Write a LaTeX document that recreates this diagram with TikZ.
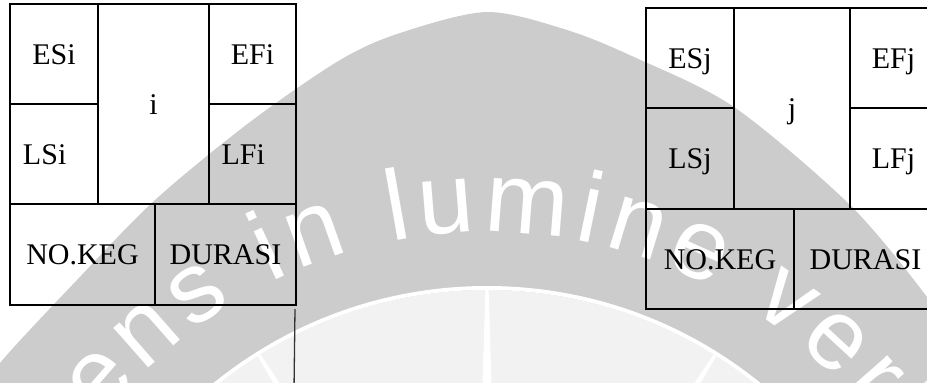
\documentclass[tikz,border=0pt]{standalone}
\usepackage{fontspec}
\setmainfont{Liberation Serif}
\newfontfamily\mottofont{Liberation Sans}
\newcommand\mottostyle{\mottofont\fontsize{100pt}{100pt}\selectfont\color{white}}
\usetikzlibrary{calc,decorations.text}
\definecolor{bandgray}{HTML}{CCCCCC}
\definecolor{discgray}{HTML}{F2F2F2}

\begin{document}
\begin{tikzpicture}[x=1pt, y=-1pt,
        cell/.style={draw, line width=2pt, inner sep=0pt,
                     minimum width=88pt, minimum height=100pt,
                     font=\fontsize{30pt}{36pt}\selectfont,
                     text height=20pt, text depth=0pt},
        lcell/.style={cell, text width=62pt, align=left},
        link/.style={draw=black!80, line width=1.3pt}
    ]
    \useasboundingbox (0,0) rectangle (927,383);
    \clip (0,0) rectangle (927,383);
    \coordinate (C) at (487,720);

    % watermark
    \fill[bandgray] plot[smooth] coordinates {(-40,420) (0,363) (77,280) (155,200)
        (250,122) (340,60) (400,33) (487,12) (567,30) (634,57) (734,107)
        (850,205) (927,297) (960,350)} -- (960,420) -- cycle;
    \fill[discgray] (C) circle[radius=430];
    \draw[white, line width=4pt] (C) circle[radius=432];
    \begin{scope}
        \clip (C) circle[radius=430];
        \foreach \a in {-122,-90,-58}
            \fill[white] ($(C)+(\a:481)$) -- ($(C)+(\a+90:15)$) -- ($(C)+(\a-90:15)$) -- cycle;
    \end{scope}
    \path[decorate, decoration={text along path, text align=fit to path,
            text={|\mottostyle|Sciens in lumine veritas}}]
        ($(C)+(-161:488)$) arc[start angle=161, end angle=17.5, radius=488pt];

    % kegiatan i
    \node[cell] (ESi) at (54,54) {ESi};
    \node[lcell] (LSi) at (54,154) {LSi};
    \node[cell, minimum width=111pt, minimum height=200pt] (acti) at (153.5,104) {i};
    \node[cell, minimum width=87pt] (EFi) at (252.5,54) {EFi};
    \node[lcell, minimum width=87pt] (LFi) at (252.5,154) {LFi};
    \node[cell, minimum width=145pt, minimum height=101pt] (NOi) at (82.5,254.5) {NO.KEG};
    \node[cell, minimum width=141pt, minimum height=101pt] (DURi) at (225.5,254.5) {DURASI};

    % kegiatan j
    \node[cell] (ESj) at (690,58) {ESj};
    \node[cell, minimum height=101pt] (LSj) at (690,158.5) {LSj};
    \node[cell, minimum width=116pt, minimum height=201pt] (actj) at (792,108.5) {j};
    \node[cell, minimum width=87pt] (EFj) at (893.5,58) {EFj};
    \node[cell, minimum width=87pt, minimum height=101pt] (LFj) at (893.5,158.5) {LFj};
    \node[cell, minimum width=148pt] (NOj) at (720,259) {NO.KEG};
    \node[cell, minimum width=143pt] (DURj) at (865.5,259) {DURASI};

    % garis keluar
    \coordinate (iout) at (294,390);
    \draw[link] ([xshift=-2pt,yshift=-3pt]DURi.south east) -- (iout);
\end{tikzpicture}
\end{document}
